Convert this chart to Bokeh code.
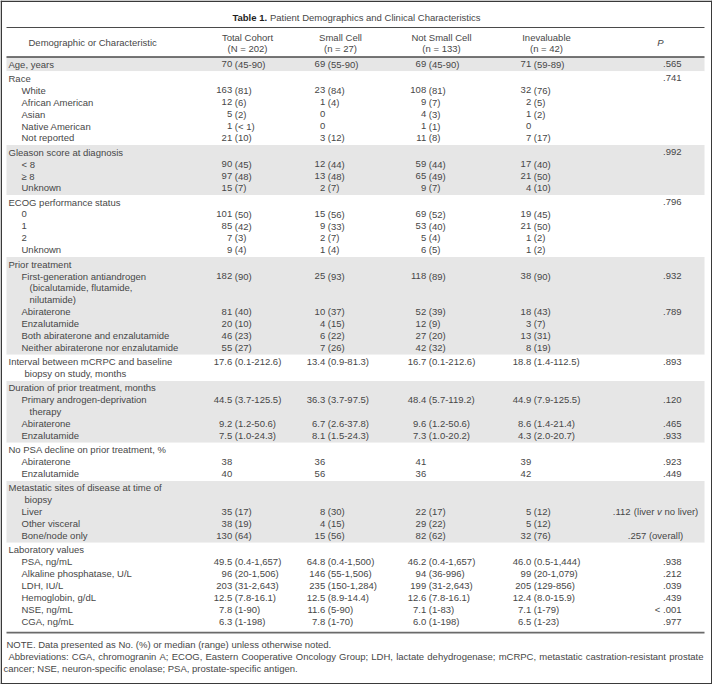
from bokeh.plotting import figure
from bokeh.models import Range1d, ColumnDataSource
from bokeh.embed import file_html
from bokeh.resources import INLINE
from bokeh.core.properties import value

# ---------------- data ----------------
title_bold = "Table 1."
title_rest = "Patient Demographics and Clinical Characteristics"
first_header = "Demographic or Characteristic"
col_header_1 = ["Total Cohort", "Small Cell", "Not Small Cell", "Inevaluable"]
col_header_2 = ["(N = 202)", "(n = 27)", "(n = 133)", "(n = 42)"]
p_header = "P"

row_labels = [
    "Age, years",
    "Race", "White", "African American", "Asian", "Native American", "Not reported",
    "Gleason score at diagnosis", "< 8", "\u2265 8", "Unknown",
    "ECOG performance status", "0", "1", "2", "Unknown",
    "Prior treatment",
    "First-generation antiandrogen\n(bicalutamide, flutamide,\nnilutamide)",
    "Abiraterone", "Enzalutamide", "Both abiraterone and enzalutamide",
    "Neither abiraterone nor enzalutamide",
    "Interval between mCRPC and baseline\nbiopsy on study, months",
    "Duration of prior treatment, months", "Primary androgen-deprivation\ntherapy",
    "Abiraterone", "Enzalutamide",
    "No PSA decline on prior treatment, %", "Abiraterone", "Enzalutamide",
    "Metastatic sites of disease at time of\nbiopsy", "Liver", "Other visceral", "Bone/node only",
    "Laboratory values", "PSA, ng/mL", "Alkaline phosphatase, U/L", "LDH, IU/L",
    "Hemoglobin, g/dL", "NSE, ng/mL", "CGA, ng/mL",
]
row_level = [0,
             0, 1, 1, 1, 1, 1,
             0, 1, 1, 1,
             0, 1, 1, 1, 1,
             0, 1, 1, 1, 1, 1,
             0,
             0, 1, 1, 1,
             0, 1, 1,
             0, 1, 1, 1,
             0, 1, 1, 1, 1, 1, 1]

total_cohort = ["70 (45-90)", "", "163 (81)", "12 (6)", "5 (2)", "1 (< 1)", "21 (10)",
                "", "90 (45)", "97 (48)", "15 (7)",
                "", "101 (50)", "85 (42)", "7 (3)", "9 (4)",
                "", "182 (90)", "81 (40)", "20 (10)", "46 (23)", "55 (27)",
                "17.6 (0.1-212.6)",
                "", "44.5 (3.7-125.5)", "9.2 (1.2-50.6)", "7.5 (1.0-24.3)",
                "", "38", "40",
                "", "35 (17)", "38 (19)", "130 (64)",
                "", "49.5 (0.4-1,657)", "96 (20-1,506)", "203 (31-2,643)", "12.5 (7.8-16.1)",
                "7.8 (1-90)", "6.3 (1-198)"]
small_cell = ["69 (55-90)", "", "23 (84)", "1 (4)", "0", "0", "3 (12)",
              "", "12 (44)", "13 (48)", "2 (7)",
              "", "15 (56)", "9 (33)", "2 (7)", "1 (4)",
              "", "25 (93)", "10 (37)", "4 (15)", "6 (22)", "7 (26)",
              "13.4 (0.9-81.3)",
              "", "36.3 (3.7-97.5)", "6.7 (2.6-37.8)", "8.1 (1.5-24.3)",
              "", "36", "56",
              "", "8 (30)", "4 (15)", "15 (56)",
              "", "64.8 (0.4-1,500)", "146 (55-1,506)", "235 (150-1,284)", "12.5 (8.9-14.4)",
              "11.6 (5-90)", "7.8 (1-70)"]
not_small_cell = ["69 (45-90)", "", "108 (81)", "9 (7)", "4 (3)", "1 (1)", "11 (8)",
                  "", "59 (44)", "65 (49)", "9 (7)",
                  "", "69 (52)", "53 (40)", "5 (4)", "6 (5)",
                  "", "118 (89)", "52 (39)", "12 (9)", "27 (20)", "42 (32)",
                  "16.7 (0.1-212.6)",
                  "", "48.4 (5.7-119.2)", "9.6 (1.2-50.6)", "7.3 (1.0-20.2)",
                  "", "41", "36",
                  "", "22 (17)", "29 (22)", "82 (62)",
                  "", "46.2 (0.4-1,657)", "94 (36-996)", "199 (31-2,643)", "12.6 (7.8-16.1)",
                  "7.1 (1-83)", "6.0 (1-198)"]
inevaluable = ["71 (59-89)", "", "32 (76)", "2 (5)", "1 (2)", "0", "7 (17)",
               "", "17 (40)", "21 (50)", "4 (10)",
               "", "19 (45)", "21 (50)", "1 (2)", "1 (2)",
               "", "38 (90)", "18 (43)", "3 (7)", "13 (31)", "8 (19)",
               "18.8 (1.4-112.5)",
               "", "44.9 (7.9-125.5)", "8.6 (1.4-21.4)", "4.3 (2.0-20.7)",
               "", "39", "42",
               "", "5 (12)", "5 (12)", "32 (76)",
               "", "46.0 (0.5-1,444)", "99 (20-1,079)", "205 (129-856)", "12.4 (8.0-15.9)",
               "7.1 (1-79)", "6.5 (1-23)"]
p_values = [".565", ".741", "", "", "", "", "",
            ".992", "", "", "",
            ".796", "", "", "", "",
            "", ".932", ".789", "", "", "",
            ".893",
            "", ".120", ".465", ".933",
            "", ".923", ".449",
            "", ".112 (liver v no liver)", "", ".257 (overall)",
            "", ".938", ".212", ".039", ".439", "< .001", ".977"]

note_lines = [
    "NOTE. Data presented as No. (%) or median (range) unless otherwise noted.",
    "Abbreviations: CGA, chromogranin A; ECOG, Eastern Cooperative Oncology Group; LDH, lactate dehydrogenase; mCRPC, metastatic castration-resistant prostate",
    "cancer; NSE, neuron-specific enolase; PSA, prostate-specific antigen.",
]

# ---------------- styling / layout ----------------
PW, PH = 712, 684
FONT = "Liberation Sans"
FS = 9.5
TXT = "#474747"
SHADE = "#e6e6e6"
RULE = "#4a4a4a"
RULE_BOTTOM = "#6a6a6a"
FRAME = "#3a3a3a"

X_LEFT, X_RIGHT = 6, 704
X_SECTION, X_SUB, X_SECTION_CONT, X_SUB_CONT = 8, 21, 24, 29
X_HEADER = 28
COL_HEAD_CENTERS = [247, 340, 441, 546]
P_HEAD_X = 660
P_RIGHT = 681
P_ANNOT_CENTER = 655

Y_TITLE, Y_RULE1 = 17, 27
Y_HEAD1, Y_HEAD2, Y_HEAD_MID = 36.5, 48, 42.3
Y_RULE2 = 56.5
LINE_H, BAND_PAD = 11.95, 2.2
BOTTOM_EXTRA = 3.9
NOTE_GAP = 12
NOTE_LINE_H = 11.7

# Arial / Liberation Sans advance widths (1/1000 em)
W = {' ': 278, '!': 278, '"': 355, '#': 556, '$': 556, '%': 889, '&': 667, "'": 191,
     '(': 333, ')': 333, '*': 389, '+': 584, ',': 278, '-': 333, '.': 278, '/': 278,
     ':': 278, ';': 278, '<': 584, '=': 584, '>': 584, '?': 556, '@': 1015,
     'A': 667, 'B': 667, 'C': 722, 'D': 722, 'E': 667, 'F': 611, 'G': 778, 'H': 722,
     'I': 278, 'J': 500, 'K': 667, 'L': 556, 'M': 833, 'N': 722, 'O': 778, 'P': 667,
     'Q': 778, 'R': 722, 'S': 667, 'T': 611, 'U': 722, 'V': 667, 'W': 944, 'X': 667,
     'Y': 667, 'Z': 611, 'a': 556, 'b': 556, 'c': 500, 'd': 556, 'e': 556, 'f': 278,
     'g': 556, 'h': 556, 'i': 222, 'j': 222, 'k': 500, 'l': 222, 'm': 833, 'n': 556,
     'o': 556, 'p': 556, 'q': 556, 'r': 333, 's': 500, 't': 278, 'u': 556, 'v': 500,
     'w': 722, 'x': 500, 'y': 500, 'z': 500}
for d in "0123456789":
    W[d] = 556
WB = dict(W)
WB.update({'b': 611})


def tw(s, table=W, fs=FS):
    return sum(table.get(c, 584) for c in s) * fs / 1000.0


columns = [total_cohort, small_cell, not_small_cell, inevaluable]

# number anchor of each column: widest cell centred under the column heading
col_anchors = []
for cx, col in zip(COL_HEAD_CENTERS, columns):
    widest = max((v for v in col if v), key=lambda v: tw(v))
    num = widest.partition(" ")[0]
    col_anchors.append(cx - tw(widest) / 2 + tw(num))

texts = {}


def add(key, x, y, t):
    d = texts.setdefault(key, {"x": [], "y": [], "text": []})
    d["x"].append(x)
    d["y"].append(y)
    d["text"].append(t)


# ---- row positions ----
row_y = []
band_rows = []
line = 0
band = -1
for lab, lev in zip(row_labels, row_level):
    if lev == 0:
        band += 1
        band_rows.append([])
    y = Y_RULE2 + (LINE_H + BAND_PAD) / 2 + line * LINE_H + band * BAND_PAD
    n = len(lab.split("\n"))
    row_y.append(y)
    band_rows[band].append((y, y + (n - 1) * LINE_H))
    line += n

band_top, band_bottom, band_fill = [], [], []
for b, rows in enumerate(band_rows):
    top = rows[0][0] - (LINE_H + BAND_PAD) / 2
    bot = rows[-1][1] + (LINE_H + BAND_PAD) / 2
    band_top.append(top)
    band_bottom.append(bot)
    band_fill.append(SHADE if b % 2 == 0 else "#ffffff")
table_bottom = band_bottom[-1] + BOTTOM_EXTRA

# ---- figure ----
p = figure(width=PW, height=PH, x_range=Range1d(0, PW), y_range=Range1d(PH, 0),
           x_axis_type=None, y_axis_type=None, toolbar_location=None,
           output_backend="svg", min_border=0, outline_line_color=None,
           background_fill_color="white", border_fill_color="white")
p.grid.visible = False

p.quad(left=[X_LEFT] * len(band_top), right=[X_RIGHT] * len(band_top),
       top=band_top, bottom=band_bottom, fill_color=band_fill, line_color=None)

p.segment(x0=[X_LEFT], x1=[X_RIGHT], y0=[Y_RULE1], y1=[Y_RULE1], line_color=RULE, line_width=1)
p.segment(x0=[X_LEFT], x1=[X_RIGHT], y0=[Y_RULE2], y1=[Y_RULE2], line_color=RULE, line_width=1.6)
p.segment(x0=[X_LEFT], x1=[X_RIGHT], y0=[table_bottom], y1=[table_bottom],
          line_color=RULE_BOTTOM, line_width=1.6)

# outer frame
p.segment(x0=[0.75, PW - 0.75, 0, 0], x1=[0.75, PW - 0.75, PW, PW],
          y0=[0, 0, 0.75, PH - 0.75], y1=[PH, PH, 0.75, PH - 0.75],
          line_color=FRAME, line_width=1.5)

# ---- title ----
t_total = tw(title_bold, WB) + tw(" ") + tw(title_rest)
tx = PW / 2 - t_total / 2
add(("left", "bold", "#1e1e1e"), tx, Y_TITLE, title_bold)
add(("left", "normal", TXT), tx + tw(title_bold, WB) + tw(" "), Y_TITLE, title_rest)

# ---- header ----
add(("left", "normal", TXT), X_HEADER, Y_HEAD_MID, first_header)
for cx, h1, h2 in zip(COL_HEAD_CENTERS, col_header_1, col_header_2):
    add(("center", "normal", TXT), cx, Y_HEAD1, h1)
    add(("center", "normal", TXT), cx, Y_HEAD2, h2)
add(("center", "italic", TXT), P_HEAD_X, Y_HEAD_MID, p_header)

# ---- body ----
for i, (lab, lev) in enumerate(zip(row_labels, row_level)):
    y = row_y[i]
    parts = lab.split("\n")
    for k, part in enumerate(parts):
        if k == 0:
            x = X_SECTION if lev == 0 else X_SUB
        else:
            x = X_SECTION_CONT if lev == 0 else X_SUB_CONT
        add(("left", "normal", TXT), x, y + k * LINE_H, part)
    for anchor, col in zip(col_anchors, columns):
        v = col[i]
        if not v:
            continue
        num, _, rest = v.partition(" ")
        add(("right", "normal", TXT), anchor, y, num)
        if rest:
            add(("left", "normal", TXT), anchor + tw(" "), y, rest)
    pv = p_values[i]
    if pv:
        if "(" in pv:
            segs = []
            for j, tok in enumerate(pv.split(" ")):
                if j:
                    segs.append((" ", "normal"))
                segs.append((tok, "italic" if tok == "v" else "normal"))
            total_w = sum(tw(s) for s, _ in segs)
            x = P_ANNOT_CENTER - total_w / 2
            for s, st in segs:
                if s.strip():
                    add(("left", st, TXT), x, y, s)
                x += tw(s)
        else:
            add(("right", "normal", TXT), P_RIGHT, y, pv)

# ---- notes ----
note_y0 = table_bottom + NOTE_GAP
note_x = [6, 8, 3]
justify = [False, True, False]
for k, (ln, nx, js) in enumerate(zip(note_lines, note_x, justify)):
    y = note_y0 + k * NOTE_LINE_H
    if not js:
        add(("left", "normal", TXT), nx, y, ln)
        continue
    words = ln.split(" ")
    natural = sum(tw(w_) for w_ in words)
    gap = (703 - nx - natural) / (len(words) - 1)
    x = nx
    for w_ in words:
        add(("left", "normal", TXT), x, y, w_)
        x += tw(w_) + gap

for (align, style, color), d in texts.items():
    p.text(x="x", y="y", text="text", source=ColumnDataSource(d),
           text_font=value(FONT), text_font_size=f"{FS}px", text_font_style=style,
           text_align=align, text_baseline="middle", text_color=color)

open("out.html", "w").write(file_html(p, INLINE))
